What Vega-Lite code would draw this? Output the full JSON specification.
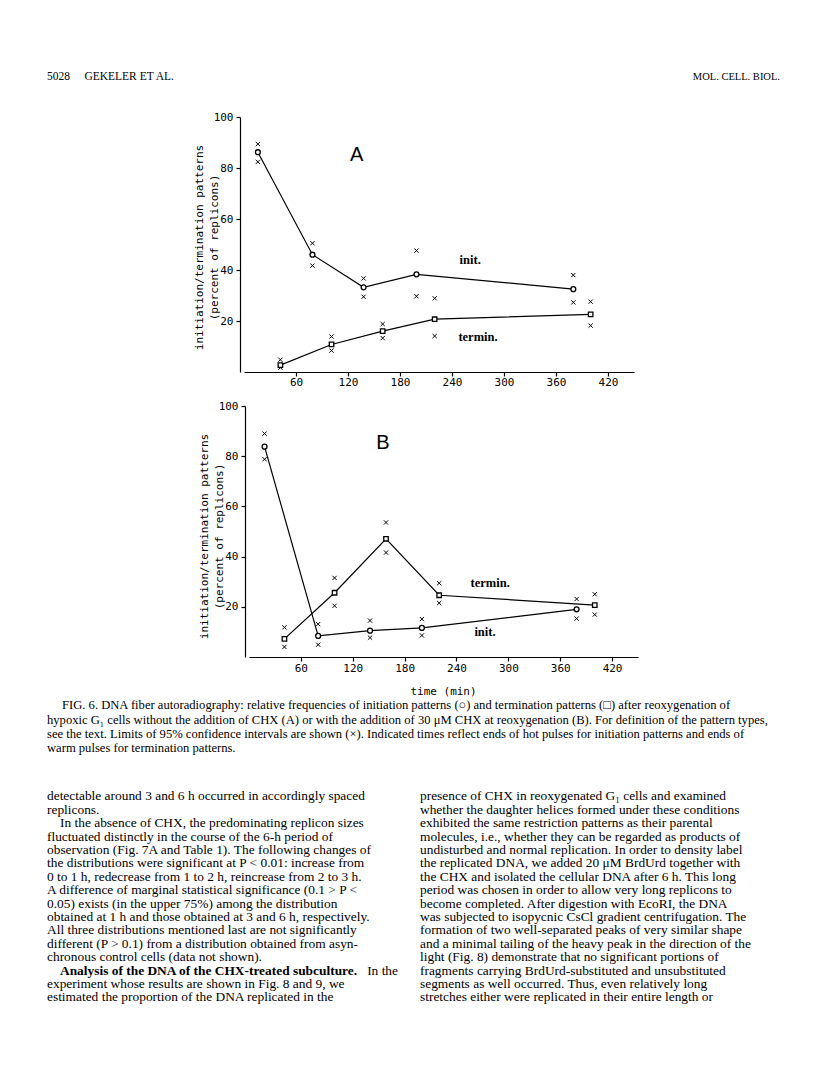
{
  "$schema": "https://vega.github.io/schema/vega-lite/v6.json",
  "background": "white",
  "autosize": {"type": "pad"},
  "padding": {"left": 47, "top": 71, "right": 0, "bottom": 0},
  "datasets": {
    "obs": [
      {"panel": "A", "series": "init", "time": 16, "value": 86.2, "lo": 82.4, "hi": 89.4},
      {"panel": "A", "series": "init", "time": 79, "value": 46, "lo": 41.7, "hi": 50.5},
      {"panel": "A", "series": "init", "time": 138, "value": 33.2, "lo": 29.5, "hi": 36.7},
      {"panel": "A", "series": "init", "time": 199, "value": 38.3, "lo": 29.7, "hi": 47.6},
      {"panel": "A", "series": "init", "time": 380, "value": 32.5, "lo": 27.3, "hi": 38},
      {"panel": "A", "series": "termin", "time": 42, "value": 2.7, "lo": 1.7, "hi": 4.8},
      {"panel": "A", "series": "termin", "time": 101, "value": 10.8, "lo": 8.4, "hi": 13.9},
      {"panel": "A", "series": "termin", "time": 160, "value": 16, "lo": 13.3, "hi": 18.8},
      {"panel": "A", "series": "termin", "time": 220, "value": 20.7, "lo": 14.1, "hi": 28.9},
      {"panel": "A", "series": "termin", "time": 400, "value": 22.6, "lo": 18.2, "hi": 27.6},
      {"panel": "B", "series": "init", "time": 18, "value": 83.8, "lo": 78.8, "hi": 89},
      {"panel": "B", "series": "init", "time": 80, "value": 8.4, "lo": 4.9, "hi": 13.1},
      {"panel": "B", "series": "init", "time": 140, "value": 10.5, "lo": 7.7, "hi": 14.5},
      {"panel": "B", "series": "init", "time": 200, "value": 11.6, "lo": 8.6, "hi": 15.1},
      {"panel": "B", "series": "init", "time": 379, "value": 19, "lo": 15.3, "hi": 23.1},
      {"panel": "B", "series": "termin", "time": 41, "value": 7.2, "lo": 4, "hi": 11.8},
      {"panel": "B", "series": "termin", "time": 99, "value": 25.6, "lo": 20.4, "hi": 31.5},
      {"panel": "B", "series": "termin", "time": 158.5, "value": 47.1, "lo": 41.6, "hi": 53.6},
      {"panel": "B", "series": "termin", "time": 220, "value": 24.6, "lo": 21.5, "hi": 29.4},
      {"panel": "B", "series": "termin", "time": 400, "value": 20.7, "lo": 16.9, "hi": 25}
    ],
    "labels": [
      {"panel": "A", "kind": "series", "label": "init.", "time": 261, "value": 44},
      {"panel": "A", "kind": "series", "label": "termin.", "time": 270, "value": 13.7},
      {"panel": "A", "kind": "letter", "label": "A", "time": 130, "value": 85},
      {"panel": "B", "kind": "series", "label": "termin.", "time": 279, "value": 29.5},
      {"panel": "B", "kind": "series", "label": "init.", "time": 273, "value": 10},
      {"panel": "B", "kind": "letter", "label": "B", "time": 155, "value": 85.3}
    ],
    "header": [
      {"part": "left", "text": "5028\u00a0\u00a0\u00a0\u00a0\u00a0GEKELER ET AL."},
      {"part": "right", "text": "MOL. CELL. BIOL."}
    ],
    "caption": [
      {"line": 1, "kind": "first", "text": "FIG. 6. DNA fiber autoradiography: relative frequencies of initiation patterns (\u25cb) and termination patterns (\u25a1) after reoxygenation of"},
      {"line": 2, "kind": "text", "text": "hypoxic G\u2081 cells without the addition of CHX (A) or with the addition of 30 \u03bcM CHX at reoxygenation (B). For definition of the pattern types,"},
      {"line": 3, "kind": "text", "text": "see the text. Limits of 95% confidence intervals are shown (\u00d7). Indicated times reflect ends of hot pulses for initiation patterns and ends of"},
      {"line": 4, "kind": "text", "text": "warm pulses for termination patterns."}
    ],
    "body": [
      {"col": "left", "line": 1, "kind": "text", "text": "detectable around 3 and 6 h occurred in accordingly spaced"},
      {"col": "left", "line": 2, "kind": "text", "text": "replicons."},
      {"col": "left", "line": 3, "kind": "first", "text": "In the absence of CHX, the predominating replicon sizes"},
      {"col": "left", "line": 4, "kind": "text", "text": "fluctuated distinctly in the course of the 6-h period of"},
      {"col": "left", "line": 5, "kind": "text", "text": "observation (Fig. 7A and Table 1). The following changes of"},
      {"col": "left", "line": 6, "kind": "text", "text": "the distributions were significant at P < 0.01: increase from"},
      {"col": "left", "line": 7, "kind": "text", "text": "0 to 1 h, redecrease from 1 to 2 h, reincrease from 2 to 3 h."},
      {"col": "left", "line": 8, "kind": "text", "text": "A difference of marginal statistical significance (0.1 > P <"},
      {"col": "left", "line": 9, "kind": "text", "text": "0.05) exists (in the upper 75%) among the distribution"},
      {"col": "left", "line": 10, "kind": "text", "text": "obtained at 1 h and those obtained at 3 and 6 h, respectively."},
      {"col": "left", "line": 11, "kind": "text", "text": "All three distributions mentioned last are not significantly"},
      {"col": "left", "line": 12, "kind": "text", "text": "different (P > 0.1) from a distribution obtained from asyn-"},
      {"col": "left", "line": 13, "kind": "text", "text": "chronous control cells (data not shown)."},
      {"col": "left", "line": 14, "kind": "heading", "text": "Analysis of the DNA of the CHX-treated subculture."},
      {"col": "left", "line": 14, "kind": "heading-rest", "text": "In the"},
      {"col": "left", "line": 15, "kind": "text", "text": "experiment whose results are shown in Fig. 8 and 9, we"},
      {"col": "left", "line": 16, "kind": "text", "text": "estimated the proportion of the DNA replicated in the"},
      {"col": "right", "line": 1, "kind": "text", "text": "presence of CHX in reoxygenated G\u2081 cells and examined"},
      {"col": "right", "line": 2, "kind": "text", "text": "whether the daughter helices formed under these conditions"},
      {"col": "right", "line": 3, "kind": "text", "text": "exhibited the same restriction patterns as their parental"},
      {"col": "right", "line": 4, "kind": "text", "text": "molecules, i.e., whether they can be regarded as products of"},
      {"col": "right", "line": 5, "kind": "text", "text": "undisturbed and normal replication. In order to density label"},
      {"col": "right", "line": 6, "kind": "text", "text": "the replicated DNA, we added 20 \u03bcM BrdUrd together with"},
      {"col": "right", "line": 7, "kind": "text", "text": "the CHX and isolated the cellular DNA after 6 h. This long"},
      {"col": "right", "line": 8, "kind": "text", "text": "period was chosen in order to allow very long replicons to"},
      {"col": "right", "line": 9, "kind": "text", "text": "become completed. After digestion with EcoRI, the DNA"},
      {"col": "right", "line": 10, "kind": "text", "text": "was subjected to isopycnic CsCl gradient centrifugation. The"},
      {"col": "right", "line": 11, "kind": "text", "text": "formation of two well-separated peaks of very similar shape"},
      {"col": "right", "line": 12, "kind": "text", "text": "and a minimal tailing of the heavy peak in the direction of the"},
      {"col": "right", "line": 13, "kind": "text", "text": "light (Fig. 8) demonstrate that no significant portions of"},
      {"col": "right", "line": 14, "kind": "text", "text": "fragments carrying BrdUrd-substituted and unsubstituted"},
      {"col": "right", "line": 15, "kind": "text", "text": "segments as well occurred. Thus, even relatively long"},
      {"col": "right", "line": 16, "kind": "text", "text": "stretches either were replicated in their entire length or"}
    ]
  },
  "vconcat": [
    {
      "width": 733, "height": 12,
      "data": {"name": "header"},
      "encoding": {
        "x": {"field": "part", "type": "nominal", "scale": {"type": "point", "domain": ["left", "right"], "padding": 0}, "axis": null},
        "text": {"field": "text"}
      },
      "layer": [
        {"transform": [{"filter": "datum.part === 'left'"}], "mark": {"type": "text", "align": "left", "baseline": "middle", "font": "Liberation Serif", "fontSize": 11.5, "color": "black"}},
        {"transform": [{"filter": "datum.part === 'right'"}], "mark": {"type": "text", "align": "right", "baseline": "middle", "font": "Liberation Serif", "fontSize": 10.5, "color": "black"}}
      ]
    },
    {
      "width": 587, "height": 255,
      "data": {"name": "obs"},
      "encoding": {
        "x": {"field": "time", "type": "quantitative", "scale": {"domain": [0, 450], "range": [197, 587], "nice": false, "zero": false},
              "axis": {"values": [60, 120, 180, 240, 300, 360, 420], "title": null, "tickSize": 4, "labelPadding": 0}},
        "y": {"field": "value", "type": "quantitative", "scale": {"domain": [0, 100], "nice": false},
              "axis": {"values": [20, 40, 60, 80, 100], "title": ["initiation/termination patterns", "(percent of replicons)"], "offset": -193, "tickSize": 4, "labelPadding": 3, "titleX": -36, "titleY": 130, "titleLineHeight": 15}}
      },
      "layer": [
        {"transform": [{"filter": "datum.panel === 'A'"}], "mark": {"type": "line", "color": "black", "strokeWidth": 1.2}, "encoding": {"detail": {"field": "series"}}},
        {"transform": [{"filter": "datum.panel === 'A'"}, {"fold": ["lo", "hi"], "as": ["bound", "value"]}],
         "mark": {"type": "point", "shape": "M-1,-1L1,1M-1,1L1,-1", "size": 18, "filled": false, "stroke": "black", "strokeWidth": 1, "opacity": 1}},
        {"transform": [{"filter": "datum.panel === 'A' && datum.series === 'init'"}], "mark": {"type": "point", "shape": "circle", "size": 24, "filled": true, "fill": "white", "stroke": "black", "strokeWidth": 1.3, "opacity": 1}},
        {"transform": [{"filter": "datum.panel === 'A' && datum.series === 'termin'"}], "mark": {"type": "point", "shape": "square", "size": 20, "filled": true, "fill": "white", "stroke": "black", "strokeWidth": 1.3, "opacity": 1}},
        {"data": {"name": "labels"}, "transform": [{"filter": "datum.panel === 'A' && datum.kind === 'series'"}], "mark": {"type": "text", "font": "Liberation Serif", "fontWeight": "bold", "fontSize": 12.5, "color": "black"}, "encoding": {"text": {"field": "label"}}},
        {"data": {"name": "labels"}, "transform": [{"filter": "datum.panel === 'A' && datum.kind === 'letter'"}], "mark": {"type": "text", "font": "Liberation Sans", "fontSize": 20, "color": "black"}, "encoding": {"text": {"field": "label"}}}
      ]
    },
    {
      "width": 591, "height": 251,
      "data": {"name": "obs"},
      "encoding": {
        "x": {"field": "time", "type": "quantitative", "scale": {"domain": [0, 450], "range": [202, 591], "nice": false, "zero": false},
              "axis": {"values": [60, 120, 180, 240, 300, 360, 420], "title": "time (min)", "titlePadding": 12, "titleX": 396, "tickSize": 4, "labelPadding": 1}},
        "y": {"field": "value", "type": "quantitative", "scale": {"domain": [0, 100], "nice": false},
              "axis": {"values": [20, 40, 60, 80, 100], "title": ["initiation/termination patterns", "(percent of replicons)"], "offset": -198, "tickSize": 4, "labelPadding": 3, "titleX": -36, "titleY": 130, "titleLineHeight": 15}}
      },
      "layer": [
        {"transform": [{"filter": "datum.panel === 'B'"}], "mark": {"type": "line", "color": "black", "strokeWidth": 1.2}, "encoding": {"detail": {"field": "series"}}},
        {"transform": [{"filter": "datum.panel === 'B'"}, {"fold": ["lo", "hi"], "as": ["bound", "value"]}],
         "mark": {"type": "point", "shape": "M-1,-1L1,1M-1,1L1,-1", "size": 18, "filled": false, "stroke": "black", "strokeWidth": 1, "opacity": 1}},
        {"transform": [{"filter": "datum.panel === 'B' && datum.series === 'init'"}], "mark": {"type": "point", "shape": "circle", "size": 24, "filled": true, "fill": "white", "stroke": "black", "strokeWidth": 1.3, "opacity": 1}},
        {"transform": [{"filter": "datum.panel === 'B' && datum.series === 'termin'"}], "mark": {"type": "point", "shape": "square", "size": 20, "filled": true, "fill": "white", "stroke": "black", "strokeWidth": 1.3, "opacity": 1}},
        {"data": {"name": "labels"}, "transform": [{"filter": "datum.panel === 'B' && datum.kind === 'series'"}], "mark": {"type": "text", "font": "Liberation Serif", "fontWeight": "bold", "fontSize": 12.5, "color": "black"}, "encoding": {"text": {"field": "label"}}},
        {"data": {"name": "labels"}, "transform": [{"filter": "datum.panel === 'B' && datum.kind === 'letter'"}], "mark": {"type": "text", "font": "Liberation Sans", "fontSize": 20, "color": "black"}, "encoding": {"text": {"field": "label"}}}
      ]
    },
    {
      "width": 733, "height": 57.2,
      "data": {"name": "caption"},
      "encoding": {
        "x": {"datum": "left", "type": "nominal", "scale": {"type": "point", "domain": ["left", "right"], "padding": 0}, "axis": null},
        "y": {"field": "line", "type": "quantitative", "scale": {"domain": [0, 4], "reverse": true, "nice": false, "zero": false}, "axis": null},
        "text": {"field": "text"}
      },
      "layer": [
        {"transform": [{"filter": "datum.kind === 'first'"}], "mark": {"type": "text", "align": "left", "baseline": "middle", "font": "Liberation Serif", "fontSize": 12.6, "color": "black", "dx": 15}},
        {"transform": [{"filter": "datum.kind === 'text'"}], "mark": {"type": "text", "align": "left", "baseline": "middle", "font": "Liberation Serif", "fontSize": 12.6, "color": "black"}}
      ]
    },
    {
      "width": 373, "height": 214.4,
      "data": {"name": "body"},
      "encoding": {
        "x": {"field": "col", "type": "nominal", "scale": {"type": "point", "domain": ["left", "right"], "padding": 0}, "axis": null},
        "y": {"field": "line", "type": "quantitative", "scale": {"domain": [0, 16], "reverse": true, "nice": false, "zero": false}, "axis": null},
        "text": {"field": "text"}
      },
      "layer": [
        {"transform": [{"filter": "datum.kind === 'text'"}], "mark": {"type": "text", "align": "left", "baseline": "middle", "font": "Liberation Serif", "fontSize": 13.4, "color": "black"}},
        {"transform": [{"filter": "datum.kind === 'first'"}], "mark": {"type": "text", "align": "left", "baseline": "middle", "font": "Liberation Serif", "fontSize": 13.4, "color": "black", "dx": 13}},
        {"transform": [{"filter": "datum.kind === 'heading'"}], "mark": {"type": "text", "align": "left", "baseline": "middle", "font": "Liberation Serif", "fontWeight": "bold", "fontSize": 13.4, "color": "black", "dx": 13}},
        {"transform": [{"filter": "datum.kind === 'heading-rest'"}], "mark": {"type": "text", "align": "right", "baseline": "middle", "font": "Liberation Serif", "fontSize": 13.4, "color": "black", "dx": -22},
         "encoding": {"x": {"datum": "right", "type": "nominal", "scale": {"type": "point", "domain": ["left", "right"], "padding": 0}, "axis": null}}}
      ]
    }
  ],
  "spacing": 34,
  "bounds": "flush",
  "config": {
    "view": {"stroke": null},
    "axis": {"domainColor": "black", "tickColor": "black", "labelColor": "black", "titleColor": "black", "labelFont": "DejaVu Sans Mono", "titleFont": "DejaVu Sans Mono", "labelFontSize": 11, "titleFontSize": 11, "titleFontWeight": "normal", "grid": false, "domainWidth": 1.2, "tickWidth": 1.2}
  }
}
